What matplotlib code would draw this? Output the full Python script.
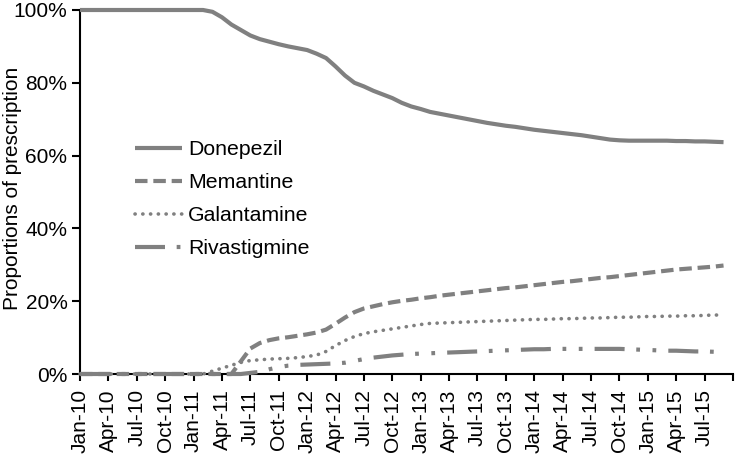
import matplotlib
matplotlib.use("Agg")
import matplotlib.pyplot as plt
from matplotlib.ticker import FixedLocator, FuncFormatter

plt.rcParams['font.family'] = ['Liberation Sans', 'DejaVu Sans']

tick_labels = ["Jan-10", "Apr-10", "Jul-10", "Oct-10", "Jan-11", "Apr-11", "Jul-11",
               "Oct-11", "Jan-12", "Apr-12", "Jul-12", "Oct-12", "Jan-13", "Apr-13",
               "Jul-13", "Oct-13", "Jan-14", "Apr-14", "Jul-14", "Oct-14", "Jan-15",
               "Apr-15", "Jul-15", ""]

# Monthly values Jan-10 .. Sep-15 (69 months), in percent
donepezil = [100]*14 + [
    99.5, 98, 96, 94.5, 93, 92, 91.3, 90.6, 90, 89.5, 89, 88, 86.8, 84.5, 82, 80,
    79, 77.8, 76.8, 75.8, 74.5, 73.5, 72.8, 72, 71.5, 71, 70.5, 70, 69.5, 69,
    68.6, 68.2, 67.9, 67.5, 67.1, 66.8, 66.5, 66.2, 65.9, 65.6, 65.2, 64.8, 64.4,
    64.2, 64.1, 64.1, 64.1, 64.1, 64.1, 64.0, 64.0, 63.9, 63.9, 63.8, 63.7]
memantine = [0]*17 + [
    3.5, 7, 8.5, 9.3, 9.8, 10.1, 10.5, 10.9, 11.4, 12.2, 13.8, 15.5, 17, 18, 18.6,
    19.2, 19.7, 20.1, 20.4, 20.8, 21.1, 21.5, 21.8, 22.1, 22.4, 22.7, 23, 23.3,
    23.6, 23.8, 24.1, 24.4, 24.7, 25, 25.3, 25.5, 25.8, 26.1, 26.4, 26.6, 26.9,
    27.2, 27.5, 27.8, 28.1, 28.4, 28.7, 28.9, 29.1, 29.3, 29.5, 29.8]
galantamine = [0]*14 + [
    0.8, 1.6, 2.4, 3.2, 3.7, 3.9, 4.1, 4.2, 4.3, 4.5, 4.8, 5.2, 6.2, 7.8, 9.2, 10.3,
    11.1, 11.6, 12, 12.4, 12.8, 13.2, 13.6, 13.9, 14.0, 14.1, 14.2, 14.3, 14.4,
    14.5, 14.6, 14.7, 14.8, 14.9, 15.0, 15.0, 15.1, 15.2, 15.2, 15.3, 15.4, 15.4,
    15.5, 15.6, 15.6, 15.7, 15.8, 15.8, 15.9, 15.9, 16.0, 16.0, 16.1, 16.2, 16.2]
rivastigmine = [0]*18 + [
    0.3, 0.6, 1.3, 1.9, 2.3, 2.5, 2.6, 2.7, 2.8, 2.9, 3.1, 3.6, 4.1, 4.5, 4.8, 5.1,
    5.3, 5.5, 5.6, 5.7, 5.8, 5.9, 6.0, 6.1, 6.2, 6.3, 6.4, 6.5, 6.6, 6.7, 6.8, 6.8,
    6.9, 6.9, 6.9, 6.9, 6.9, 6.9, 6.9, 6.9, 6.8, 6.7, 6.6, 6.5, 6.4, 6.4, 6.3,
    6.2, 6.2, 6.1, 6.1]

months = list(range(len(donepezil)))
gray = '#808080'
fs = 15

fig = plt.figure(figsize=(7.37, 4.55), dpi=100)
ax = fig.add_axes([80/737, 1-374/455, (733-80)/737, (374-10)/455])

l1, = ax.plot(months, donepezil, color=gray, lw=3, solid_capstyle='butt',
              clip_on=False, zorder=3, label='Donepezil')
l2, = ax.plot(months, memantine, color=gray, lw=3, dashes=(3.0, 1.4),
              dash_capstyle='butt', clip_on=False, zorder=3, label='Memantine')
l3, = ax.plot(months, galantamine, color=gray, lw=2.6, dashes=(0.05, 2.1),
              dash_capstyle='round', clip_on=False, zorder=3, label='Galantamine')
l4, = ax.plot(months, rivastigmine, color=gray, lw=3,
              dashes=(7.2, 2.8, 0.9, 3.0, 0.9, 2.9),
              dash_capstyle='butt', clip_on=False, zorder=3, label='Rivastigmine')

ax.set_xlim(0, 69)
ax.set_ylim(0, 100)
ax.xaxis.set_major_locator(FixedLocator(list(range(0, 70, 3))))
ax.set_xticklabels(tick_labels, rotation=90, fontsize=fs)
ax.set_yticks([0, 20, 40, 60, 80, 100])
ax.yaxis.set_major_formatter(FuncFormatter(lambda v, p: f"{int(v)}%"))
ax.tick_params(axis='y', length=6, width=1.5, pad=3, labelsize=fs)
ax.tick_params(axis='x', length=5, width=1.5, pad=6, labelsize=fs)
for s in ['top', 'right']:
    ax.spines[s].set_visible(False)
for s in ['left', 'bottom']:
    ax.spines[s].set_linewidth(1.5)
ax.set_ylabel('Proportions of prescription', fontsize=fs)
ax.yaxis.set_label_coords((13 - 80) / 653, 0.51)
ax.yaxis.label.set_va('center')

fig.legend(handles=[l1, l2, l3, l4], loc='center left',
           bbox_to_anchor=(135/737, 1-199/455), frameon=False, fontsize=15.3,
           handlelength=2.2, handletextpad=0.3, labelspacing=0.66,
           borderpad=0, borderaxespad=0)

fig.savefig('out.png', dpi=100)
